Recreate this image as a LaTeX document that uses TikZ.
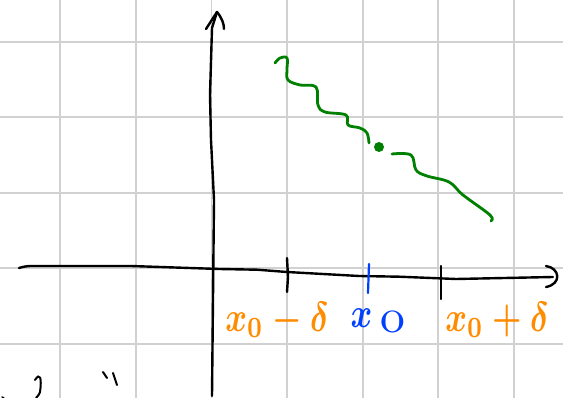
\documentclass[tikz,border=0pt]{standalone}
\usepackage{graphicx}
\usepackage{amsmath}
\begin{document}
\begin{tikzpicture}[x=1pt,y=-1pt,
  gridline/.style={draw=black!18,line width=1.8pt},
  axis/.style={draw=black,line width=2.4pt,line cap=round,line join=round},
  curve/.style={draw=green!50!black,line width=2.8pt,line cap=round,line join=round},
  orangelbl/.style={text=orange!90!yellow,font=\boldmath,inner sep=0pt},
  bluelbl/.style={text=blue!75!cyan,font=\boldmath,inner sep=0pt}]
\useasboundingbox (0,0) rectangle (563,398);
\fill[white] (0,0) rectangle (563,398);
% grid
\foreach \gx in {60,136,211.5,287,363,438,514}
  \draw[gridline] (\gx,0) -- (\gx,398);
\foreach \gy in {42,117,193,268,344}
  \draw[gridline] (0,\gy) -- (563,\gy);
% axes
\coordinate (xs) at (19,268);
\coordinate (xe) at (553,277);
\draw[axis] (xs) .. controls (25,266) and (30,266) .. (32,266) -- (131,266) -- (219,269) -- (257,269.7) -- (287,272) -- (359,276) -- (399,276.7) -- (456,279) -- (xe);
\draw[axis] (546,266) .. controls (560,268) and (562,284) .. (546,287);
\coordinate (ys) at (212,396);
\coordinate (ye) at (217,12);
\draw[axis] (ys) -- (214,200) -- (211,140) -- (210,95) -- (212,28) -- (ye);
\draw[axis] (206,29) -- (ye) .. controls (222,18) and (224,24) .. (224,29);
% ticks
\draw[axis] (287,258) -- (288,277) -- (287,292);
\draw[draw=blue!75!cyan,line width=2.2pt,line cap=round] (369,264) -- (368,293);
\draw[axis] (441,266) -- (441,299);
% labels
\node[orangelbl] (lm) at (277,320) {\scalebox{3.3}[4.2]{$x_0-\delta$}};
\node[bluelbl] (l0) at (378,321) {\scalebox{3.3}[4.2]{$x$\kern0.25em\raisebox{-0.12em}{\scalebox{1.5}[1.15]{o}}}};
\node[orangelbl] (lp) at (497,320) {\scalebox{3.3}[4.2]{$x_0+\delta$}};
% green curve
\draw[curve] plot[smooth,tension=0.6] coordinates {(275,63) (280,58) (287,58) (287,70) (288,80) (300,85) (316,87) (318,105) (325,112) (346,115) (348,125) (360,128) (367,133) (369,143)};
\draw[curve] plot[smooth,tension=0.6] coordinates {(392,154) (411,155) (416,170) (427,176) (449,182) (463,195) (490,215) (491,221)};
\node[circle,fill=green!50!black,minimum size=10pt,inner sep=0pt] (pt) at (379,147) {};
% stray marks bottom left
\draw[draw=black,line width=2pt,line cap=round] (35,380) .. controls (40,372) and (42,378) .. (40,392) .. controls (39,396) and (36,397) .. (36,398);
\draw[draw=black,line width=1.5pt,line cap=round] (2,397) -- (4,398);
\draw[draw=black,line width=2pt,line cap=round] (103,372) -- (107,378);
\draw[draw=black,line width=2pt,line cap=round] (113,373) -- (117,385);
\end{tikzpicture}
\end{document}
